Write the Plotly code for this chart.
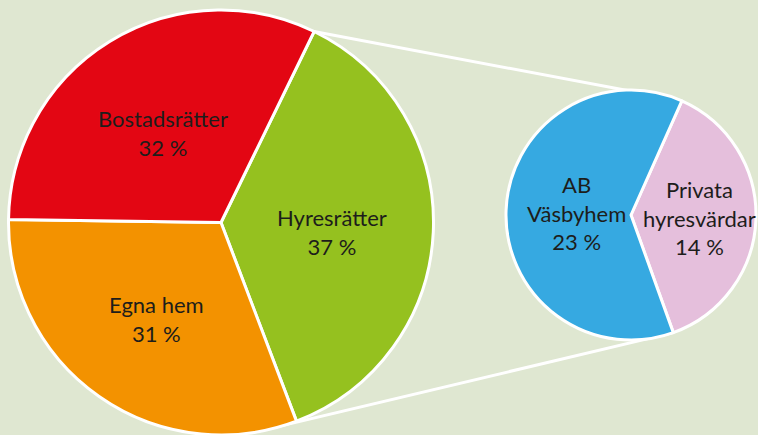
import math
import plotly.graph_objects as go

# ---- data ----
big_labels = ["Hyresrätter", "Egna hem", "Bostadsrätter"]
big_values = [37, 31, 32]
big_colors = ["#95c11f", "#f39200", "#e30613"]

small_labels = ["Privata<br>hyresvärdar", "AB<br>Väsbyhem"]
small_values = [14, 23]
small_colors = ["#e5bfdc", "#36a9e1"]

# ---- geometry / style ----
W, H = 758, 435
BG = "#dfe7d1"
BIG_CX, BIG_CY, BIG_R, BIG_ROT = 221, 223, 213, 26
SM_CX, SM_CY, SM_R, SM_ROT = 631, 215, 125, 24
BIG_TXT_F = [0.52, 0.53, 0.52]
SM_TXT_F = [0.55, 0.44]
BIG_TXT_DY = 4
FONT = dict(family="Lato, 'Open Sans', sans-serif", size=22, color="#1d1d1b")


def px_to_paper(x, y):
    return x / W, 1 - y / H


def domain(cx, cy, r):
    x0, y0 = px_to_paper(cx - r, cy + r)
    x1, y1 = px_to_paper(cx + r, cy - r)
    return dict(x=[max(0, x0), min(1, x1)], y=[max(0, y0), min(1, y1)])


def point(cx, cy, r, ang_deg):
    a = math.radians(ang_deg)
    return cx + r * math.sin(a), cy - r * math.cos(a)


def slice_angles(values, rot):
    tot = sum(values)
    out = []
    cur = rot
    for v in values:
        span = 360 * v / tot
        out.append((cur, cur + span))
        cur += span
    return out


fig = go.Figure()
fig.add_trace(go.Pie(
    labels=big_labels, values=big_values, sort=False, direction="clockwise",
    rotation=BIG_ROT, marker=dict(colors=big_colors, line=dict(color="white", width=3)),
    textinfo="none", hoverinfo="label+value", domain=domain(BIG_CX, BIG_CY, BIG_R),
    showlegend=False,
))
fig.add_trace(go.Pie(
    labels=small_labels, values=small_values, sort=False, direction="clockwise",
    rotation=SM_ROT, marker=dict(colors=small_colors, line=dict(color="white", width=3)),
    textinfo="none", hoverinfo="label+value", domain=domain(SM_CX, SM_CY, SM_R),
    showlegend=False,
))

annotations = []
big_ang = slice_angles(big_values, BIG_ROT)
for lab, val, (a0, a1), f in zip(big_labels, big_values, big_ang, BIG_TXT_F):
    x, y = point(BIG_CX, BIG_CY, BIG_R * f, (a0 + a1) / 2)
    px, py = px_to_paper(x, y + BIG_TXT_DY)
    annotations.append(dict(x=px, y=py, xref="paper", yref="paper", text=f"{lab}<br>{val} %",
                            showarrow=False, font=FONT, xanchor="center", yanchor="middle"))
sm_ang = slice_angles(small_values, SM_ROT)
for lab, val, (a0, a1), f in zip(small_labels, small_values, sm_ang, SM_TXT_F):
    x, y = point(SM_CX, SM_CY, SM_R * f, (a0 + a1) / 2)
    px, py = px_to_paper(x, y)
    annotations.append(dict(x=px, y=py, xref="paper", yref="paper", text=f"{lab}<br>{val} %",
                            showarrow=False, font=FONT, xanchor="center", yanchor="middle"))

# connector lines: from Hyresrätter edges to the small pie's split
shapes = []
b_top = point(BIG_CX, BIG_CY, BIG_R, big_ang[0][0])
b_bot = point(BIG_CX, BIG_CY, BIG_R, big_ang[0][1])
s_top = point(SM_CX, SM_CY, SM_R, sm_ang[0][0])
s_bot = point(SM_CX, SM_CY, SM_R, sm_ang[0][1])
for (bx, by), (sx, sy) in [(b_top, s_top), (b_bot, s_bot)]:
    ex, ey = bx + (bx - sx) * 0.12, by + (by - sy) * 0.12
    x0, y0 = px_to_paper(ex, ey)
    x1, y1 = px_to_paper(sx, sy)
    shapes.append(dict(type="line", xref="paper", yref="paper", x0=x0, y0=y0, x1=x1, y1=y1,
                       line=dict(color="white", width=3), layer="below"))

fig.update_layout(
    width=W, height=H, margin=dict(l=0, r=0, t=0, b=0),
    paper_bgcolor=BG, plot_bgcolor=BG,
    annotations=annotations, shapes=shapes,
)
fig.write_html(
    "out.html",
    config={"displayModeBar": False},
    post_script="document.body.style.margin='0';document.body.style.background='" + BG + "';",
)
